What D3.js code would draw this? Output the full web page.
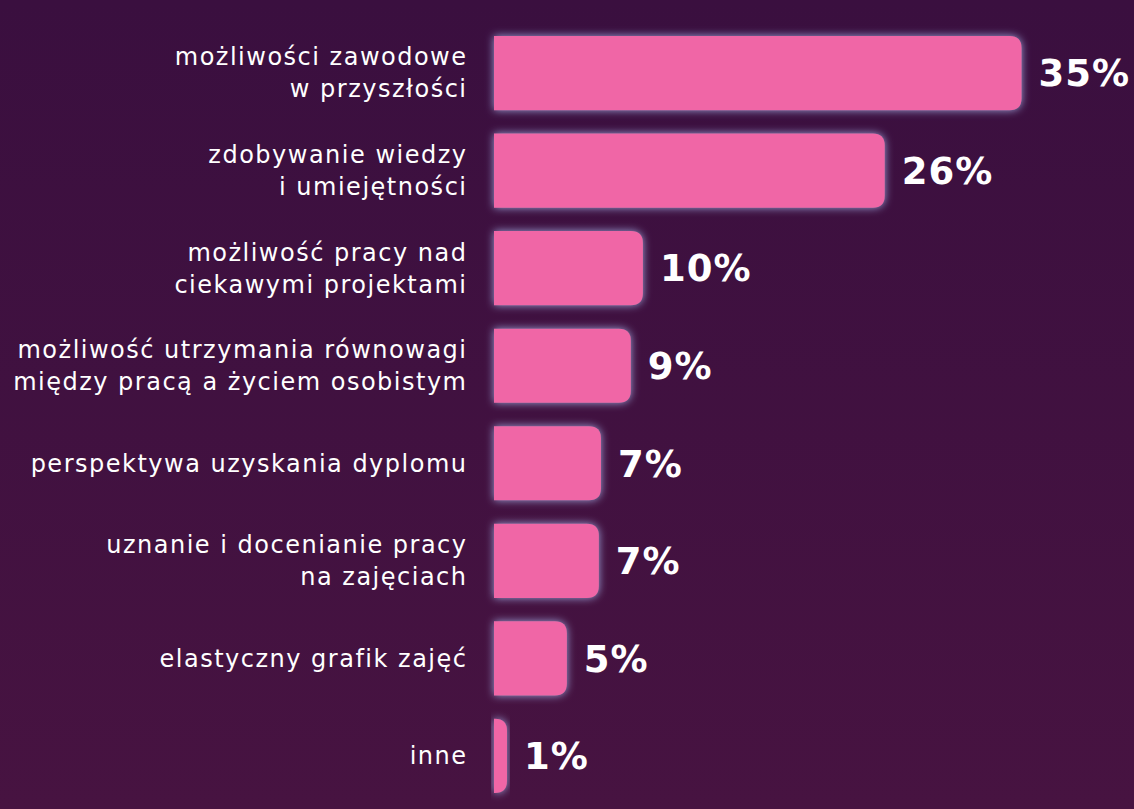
<!DOCTYPE html>
<html><head><meta charset="utf-8">
<script src="https://cdn.jsdelivr.net/npm/d3@7"></script>
<style>
html,body{margin:0;padding:0;background:#401140;}
svg{display:block;}
</style></head>
<body>
<svg id="chart" width="1134" height="809"></svg>
<script>
const categories = [
  ["możliwości zawodowe","w przyszłości"],
  ["zdobywanie wiedzy","i umiejętności"],
  ["możliwość pracy nad","ciekawymi projektami"],
  ["możliwość utrzymania równowagi","między pracą a życiem osobistym"],
  ["perspektywa uzyskania dyplomu"],
  ["uznanie i docenianie pracy","na zajęciach"],
  ["elastyczny grafik zajęć"],
  ["inne"]
];
const values = [34.97, 25.9, 9.87, 9.07, 7.09, 6.95, 4.83, 0.86];
const valueLabels = ["35%","26%","10%","9%","7%","7%","5%","1%"];

const W = 1134, H = 809;
const svg = d3.select("#chart");
const defs = svg.append("defs");
const grad = defs.append("linearGradient").attr("id","bg").attr("x1",0).attr("y1",0).attr("x2",0).attr("y2",1);
grad.append("stop").attr("offset","0%").attr("stop-color","#3a0f3f");
grad.append("stop").attr("offset","100%").attr("stop-color","#471341");
const f = defs.append("filter").attr("id","glow").attr("x","-20%").attr("y","-40%").attr("width","140%").attr("height","180%");
f.append("feDropShadow").attr("dx",0).attr("dy",0).attr("stdDeviation",4).attr("flood-color","#b4c8ff").attr("flood-opacity",0.8);
const f2 = defs.append("filter").attr("id","glow2").attr("x","-500%").attr("y","-10%").attr("width","1100%").attr("height","120%");
f2.append("feDropShadow").attr("dx",0).attr("dy",0).attr("stdDeviation",2.5).attr("flood-color","#b4c8ff").attr("flood-opacity",0.7);

svg.append("rect").attr("width",W).attr("height",H).attr("fill","url(#bg)");

const x0 = 494;
const x = d3.scaleLinear().domain([0, 35]).range([x0, 1022]);
const y = d3.scaleBand().domain(d3.range(categories.length)).range([24.3, 804.7]).paddingInner(0.24).paddingOuter(0.12);

function barPath(x1, yTop, w, h, r){
  r = Math.min(r, w, h/2);
  return `M${x1},${yTop}H${x1+w-r}Q${x1+w},${yTop} ${x1+w},${yTop+r}V${yTop+h-r}Q${x1+w},${yTop+h} ${x1+w-r},${yTop+h}H${x1}Z`;
}

const g = svg.append("g");
g.selectAll("path.bar").data(values).join("path")
  .attr("class","bar")
  .attr("d",(d,i)=>barPath(x(0), y(i), x(d)-x(0), y.bandwidth(), 12))
  .attr("fill","#f066a6")
  .attr("filter","url(#glow)");

svg.append("line").attr("x1",x0).attr("x2",x0).attr("y1",13).attr("y2",H)
  .attr("stroke","#ffffff").attr("stroke-width",2).attr("filter","url(#glow2)");

g.selectAll("text.val").data(values).join("text")
  .attr("class","val")
  .attr("x",(d)=>x(d)+17)
  .attr("y",(d,i)=>y(i)+y.bandwidth()/2)
  .attr("dy","0.36em")
  .attr("fill","#ffffff")
  .attr("font-family","DejaVu Sans")
  .attr("font-weight","bold")
  .attr("font-size",37)
  .attr("letter-spacing",1)
  .text((d,i)=>valueLabels[i]);

const fs = 24, lh = 32, ls = 1.5, lx = 466 + 1.5;
const lab = g.selectAll("text.cat").data(categories).join("text")
  .attr("class","cat")
  .attr("x",lx)
  .attr("y",(d,i)=>y(i)+y.bandwidth()/2)
  .attr("text-anchor","end")
  .attr("fill","#ffffff")
  .attr("font-family","DejaVu Sans")
  .attr("font-size",fs)
  .attr("letter-spacing",ls);
lab.each(function(d){
  const t = d3.select(this);
  const n = d.length;
  d.forEach((line,k)=>{
    t.append("tspan").attr("x",lx)
      .attr("dy", k===0 ? ((-(n-1)/2)*lh/fs + 0.35)+"em" : (lh/fs)+"em")
      .text(line);
  });
});
</script>
</body></html>
